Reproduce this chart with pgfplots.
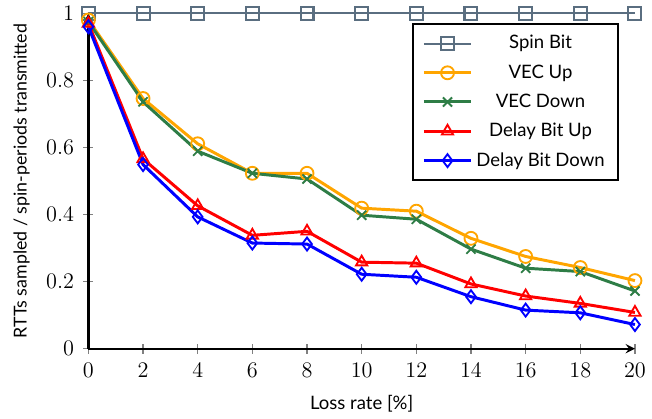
\documentclass[border=0pt]{standalone}
\usepackage{pgfplots}
\pgfplotsset{compat=1.18}
\usepackage{fontspec}
\setmainfont{Lato}
\definecolor{spingray}{RGB}{90,110,128}
\definecolor{vecorange}{RGB}{255,165,0}
\definecolor{vecgreen}{RGB}{46,125,70}
\begin{document}
\begin{tikzpicture}
\begin{axis}[
    scale only axis,
    width=295pt, height=181pt,
    axis lines=left,
    axis line style={line width=1.2pt},
    xmin=0, xmax=20, ymin=0, ymax=1,
    xtick={0,2,...,20},
    ytick={0,0.2,0.4,0.6,0.8,1},
    tick align=center,
    tick style={gray, line width=0.6pt},
    major tick length=5.5pt,
    tick label style={font=\large},
    yticklabel style={xshift=-1.5pt},
    xticklabel style={yshift=-1.5pt},
    xlabel={Loss rate [\%]},
    xlabel style={yshift=-3pt},
    ylabel={RTTs sampled / spin-periods transmitted},
    ylabel style={font=\fontsize{9.6}{11}\selectfont, yshift=2pt},
    clip=false,
    every axis plot/.append style={line width=1.6pt, mark size=3.5pt},
    legend cell align=center,
    legend image code/.code={
        \draw[mark repeat=2, mark phase=2]
        plot coordinates {(0cm,0cm) (0.45cm,0cm) (0.9cm,0cm)};},
    legend style={at={(0.97,0.97)}, anchor=north east, draw=black,
        line width=1pt, row sep=3pt, inner xsep=5pt, inner ysep=4pt},
]
\addplot[spingray, line width=1.1pt, mark=square, mark options={solid, line width=1.1pt}] coordinates {
(0,1) (2,1) (4,1) (6,1) (8,1) (10,1) (12,1) (14,1) (16,1) (18,1) (20,1)};
\addlegendentry{Spin Bit}
\addplot[vecorange, mark=o, mark options={line width=1pt}] coordinates {
(0,0.98) (2,0.746) (4,0.611) (6,0.523) (8,0.523) (10,0.419) (12,0.410) (14,0.329) (16,0.275) (18,0.242) (20,0.203)};
\addlegendentry{VEC Up}
\addplot[vecgreen, mark=x, mark options={line width=1pt}] coordinates {
(0,0.975) (2,0.736) (4,0.589) (6,0.523) (8,0.506) (10,0.398) (12,0.386) (14,0.297) (16,0.240) (18,0.230) (20,0.172)};
\addlegendentry{VEC Down}
\addplot[red, mark=triangle, mark options={line width=1pt}] coordinates {
(0,0.97) (2,0.566) (4,0.426) (6,0.338) (8,0.350) (10,0.258) (12,0.255) (14,0.193) (16,0.157) (18,0.135) (20,0.108)};
\addlegendentry{Delay Bit Up}
\addplot[blue, mark=diamond, mark options={line width=1pt}] coordinates {
(0,0.96) (2,0.549) (4,0.393) (6,0.315) (8,0.312) (10,0.222) (12,0.213) (14,0.155) (16,0.115) (18,0.107) (20,0.072)};
\addlegendentry{Delay Bit Down}
\end{axis}
\path (current bounding box.south west) ++(-4pt,0) coordinate (padleft);
\end{tikzpicture}
\end{document}
